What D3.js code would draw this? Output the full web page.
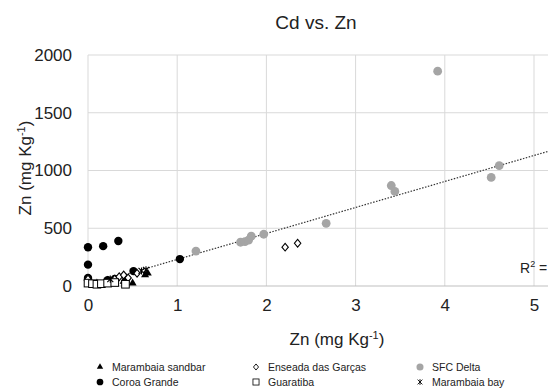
<!DOCTYPE html>
<html>
<head>
<meta charset="utf-8">
<script src="https://cdn.jsdelivr.net/npm/d3@7/dist/d3.min.js"></script>
<style>
  html, body { margin: 0; padding: 0; background: #fff; }
  svg { display: block; font-family: "Liberation Sans", Arial, sans-serif; }
</style>
</head>
<body>
<svg id="chart" width="548" height="392"></svg>
<script>
// Cd (x) and Zn (y) concentrations per sampling site, mg Kg-1
const marambaiaSandbar = [[0.02, 20], [0.10, 25], [0.30, 30], [0.40, 40], [0.50, 25], [0.64, 95], [0.67, 110]];
const coroaGrande = [[0, 336], [0.17, 345], [0.34, 390], [0, 185], [0.51, 129], [1.03, 233],
                     [0, 50], [0, 70], [0.22, 50], [0.30, 60], [0.42, 40]];
const enseadaGarcas = [[2.21, 336], [2.35, 370], [0, 60], [0.30, 60], [0.35, 80], [0.40, 95], [0.45, 70], [0.55, 110]];
const guaratiba = [[0, 25], [0.05, 20], [0.10, 15], [0.15, 20], [0.22, 25], [0.30, 30], [0.42, 15]];
const marambaiaBay = [[0.25, 60], [0.60, 130], [0.65, 140]];
const sfcDelta = [[1.21, 302], [1.71, 379], [1.76, 385], [1.80, 397], [1.83, 431], [1.97, 448],
                  [2.67, 543], [3.40, 870], [3.44, 819], [3.92, 1860], [4.52, 940], [4.61, 1043]];

const xTicks = [0, 1, 2, 3, 4, 5];
const xGrid = [0, 1, 2, 3, 4, 5, 6];
const yTicks = [0, 500, 1000, 1500, 2000];

// linear trend line over all samples
const trendSlope = 225;
const trendIntercept = 5;

const series = [
  { name: "Marambaia sandbar", data: marambaiaSandbar, shape: "triangle" },
  { name: "Coroa Grande", data: coroaGrande, shape: "dot" },
  { name: "Enseada das Garças", data: enseadaGarcas, shape: "diamond" },
  { name: "Guaratiba", data: guaratiba, shape: "square" },
  { name: "SFC Delta", data: sfcDelta, shape: "grey" },
  { name: "Marambaia bay", data: marambaiaBay, shape: "star" }
];

const svg = d3.select("#chart");
const x = d3.scaleLinear().domain([0, 6]).range([88, 88 + 6 * 89.2]);
const y = d3.scaleLinear().domain([0, 2000]).range([286, 55]);

// gridlines
const grid = svg.append("g");
grid.selectAll("line.v").data(xGrid).join("line")
  .attr("x1", d => x(d)).attr("x2", d => x(d))
  .attr("y1", y(2000)).attr("y2", y(0))
  .attr("stroke", "#d9d9d9").attr("stroke-width", 1);
grid.selectAll("line.h").data(yTicks.filter(d => d > 0)).join("line")
  .attr("x1", x(0)).attr("x2", 548)
  .attr("y1", d => y(d)).attr("y2", d => y(d))
  .attr("stroke", "#d9d9d9").attr("stroke-width", 1);
svg.append("line")
  .attr("x1", x(0)).attr("x2", 548).attr("y1", y(0)).attr("y2", y(0))
  .attr("stroke", "#bfbfbf").attr("stroke-width", 1);

// axis tick labels
const xAxis = d3.axisBottom(x).tickValues(xTicks).tickFormat(d3.format("d")).tickSize(0).tickPadding(13);
const xg = svg.append("g").attr("transform", `translate(0,${y(0)})`).call(xAxis);
xg.select(".domain").remove();
xg.selectAll("text").attr("font-size", 17).attr("fill", "#222").attr("font-family", null);

const yAxis = d3.axisLeft(y).tickValues(yTicks).tickFormat(d3.format("d")).tickSize(0).tickPadding(16);
const yg = svg.append("g").attr("transform", `translate(${x(0)},0)`).call(yAxis);
yg.select(".domain").remove();
yg.selectAll("text").attr("font-size", 17).attr("fill", "#222").attr("font-family", null);

// trend line
svg.append("line")
  .attr("x1", x(0)).attr("y1", y(trendIntercept))
  .attr("x2", x(6)).attr("y2", y(trendIntercept + trendSlope * 6))
  .attr("stroke", "#333").attr("stroke-width", 1.2)
  .attr("stroke-dasharray", "1.5,1.5");

// markers
function drawMarker(g, shape) {
  if (shape === "triangle") {
    g.append("path").attr("d", d3.symbol(d3.symbolTriangle, 28)()).attr("fill", "#000");
  } else if (shape === "dot") {
    g.append("circle").attr("r", 4.2).attr("fill", "#000");
  } else if (shape === "grey") {
    g.append("circle").attr("r", 4.4).attr("fill", "#a5a5a5");
  } else if (shape === "diamond") {
    g.append("path").attr("d", "M0,-3.8L3.2,0L0,3.8L-3.2,0Z")
      .attr("fill", "#fff").attr("stroke", "#000").attr("stroke-width", 1.1);
  } else if (shape === "square") {
    g.append("rect").attr("x", -3.8).attr("y", -3.8).attr("width", 7.6).attr("height", 7.6)
      .attr("fill", "#fff").attr("stroke", "#000").attr("stroke-width", 1);
  } else if (shape === "star") {
    g.append("path").attr("d", "M-3,-3L3,3M-3,3L3,-3M0,-3.6L0,3.6")
      .attr("stroke", "#000").attr("stroke-width", 1.1).attr("fill", "none");
  }
}

series.forEach(s => {
  s.data.forEach(([cx, cy]) => {
    const g = svg.append("g").attr("transform", `translate(${x(cx)},${y(cy)})`);
    drawMarker(g, s.shape);
  });
});

// trend line label
const r2Text = svg.append("text").attr("x", 520).attr("y", 273)
  .attr("font-size", 14).attr("fill", "#222");
r2Text.append("tspan").text("R");
r2Text.append("tspan").attr("font-size", 9).attr("dy", -6).text("2");
r2Text.append("tspan").attr("dy", 6).text(" =");

// titles
svg.append("text").attr("x", 316).attr("y", 29).attr("text-anchor", "middle")
  .attr("font-size", 19).attr("fill", "#222").text("Cd vs. Zn");

function unitLabel(t) {
  t.append("tspan").text("Zn (mg Kg");
  t.append("tspan").attr("font-size", 11).attr("dy", -6).text("-1");
  t.append("tspan").attr("dy", 6).text(")");
}
const xl = svg.append("text").attr("x", 337).attr("y", 345).attr("text-anchor", "middle")
  .attr("font-size", 17).attr("fill", "#222");
unitLabel(xl);
const yl = svg.append("text").attr("transform", "translate(31,168) rotate(-90)")
  .attr("text-anchor", "middle").attr("font-size", 17).attr("fill", "#222");
unitLabel(yl);

// legend, three columns by two rows
const legendOrder = [
  [series[0], 100, 367], [series[2], 256, 367], [series[4], 420, 367],
  [series[1], 100, 382], [series[3], 256, 382], [series[5], 420, 382]
];
legendOrder.forEach(([s, lx, ly]) => {
  const g = svg.append("g").attr("transform", `translate(${lx},${ly})`);
  const m = g.append("g").attr("transform", "scale(0.8)");
  drawMarker(m, s.shape);
  g.append("text").attr("x", 12).attr("y", 0).attr("dy", "0.35em")
    .attr("font-size", 10.5).attr("fill", "#222").text(s.name);
});
</script>
</body>
</html>
